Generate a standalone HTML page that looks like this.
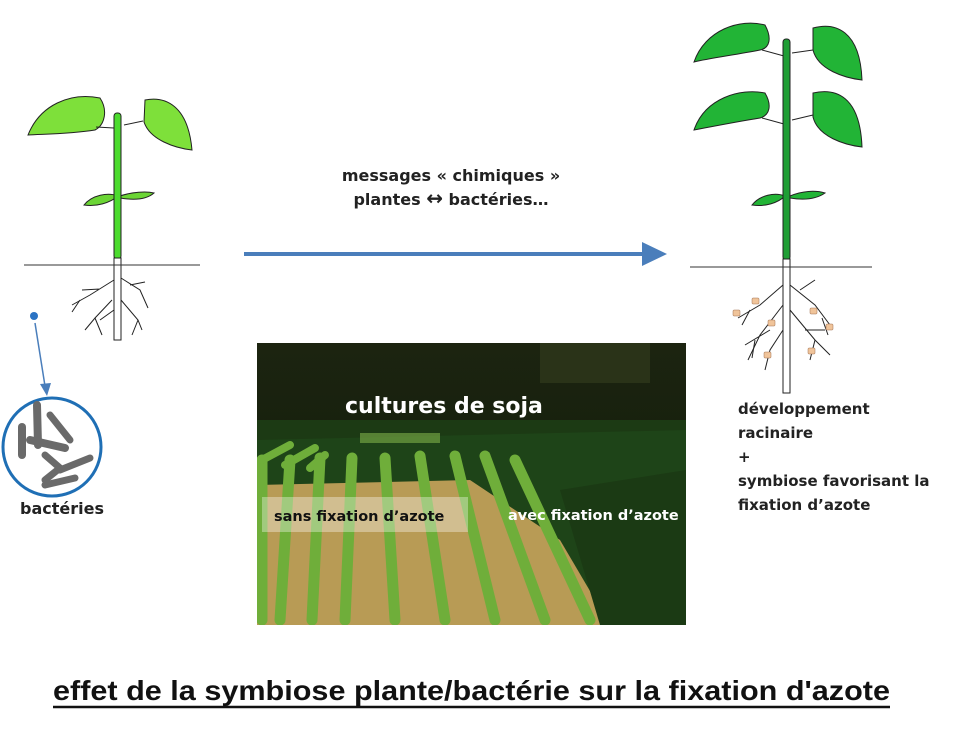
<!DOCTYPE html>
<html><head><meta charset="utf-8"><style>
html,body{margin:0;padding:0;background:#fff;}
svg{display:block;}
text{font-family:"Liberation Sans",sans-serif;}
.b{font-family:"DejaVu Sans","Liberation Sans",sans-serif;font-weight:bold;}
</style></head><body>
<svg width="956" height="750" viewBox="0 0 956 750" xmlns="http://www.w3.org/2000/svg">
<rect width="956" height="750" fill="#fff"/>

<!-- LEFT PLANT -->
<g stroke="#222" stroke-width="1">
  <path d="M28,135 C40,105 70,92 100,98 C108,110 105,125 95,130 C70,134 45,134 28,135 Z" fill="#7ee03a"/>
  <path d="M145,100 C165,96 188,105 192,150 C175,148 150,140 144,122 Z" fill="#7ee03a"/>
  <path d="M84,205 C92,195 108,192 118,196 C110,203 96,207 84,205 Z" fill="#6bd535"/>
  <path d="M120,196 C132,192 146,191 154,193 C146,200 132,200 120,198 Z" fill="#6bd535"/>
  <path d="M96,127 L114,128 M143,121 L124,125" fill="none"/>
  <rect x="114" y="113" width="7" height="146" rx="3" fill="#4cdc2e"/>
  <rect x="114" y="258" width="7" height="82" fill="#fff"/>
</g>
<line x1="24" y1="265" x2="200" y2="265" stroke="#333" stroke-width="1"/>
<g stroke="#222" stroke-width="1" fill="none">
  <path d="M114,280 L90,295 L72,305 M100,289 L82,290 M112,300 L95,318 L85,330 M114,310 L100,320"/>
  <path d="M121,278 L140,290 L148,308 M121,300 L138,320 L142,330 M130,285 L145,282"/>
  <path d="M80,300 L72,312 M95,318 L102,335 M138,320 L132,335"/>
</g>

<!-- bacteria -->
<circle cx="34" cy="316" r="4" fill="#2b74c4"/>
<line x1="35" y1="323" x2="45" y2="386" stroke="#4a7ebb" stroke-width="1.5"/>
<path d="M40,384 L47,396 L51,383 Z" fill="#4a7ebb"/>
<circle cx="52" cy="447" r="49" fill="#fff" stroke="#1f6fb5" stroke-width="3"/>
<g stroke="#6a6a6a" stroke-linecap="round" fill="none">
  <path d="M37,405 L38,445" stroke-width="8"/>
  <path d="M22,427 L22,455" stroke-width="8"/>
  <path d="M30,440 L65,448" stroke-width="8"/>
  <path d="M50,415 L70,440" stroke-width="7"/>
  <path d="M45,455 L60,468 L45,480" stroke-width="7"/>
  <path d="M60,470 L90,458" stroke-width="7"/>
  <path d="M45,485 L75,478" stroke-width="7"/>
</g>
<text x="20" y="514" class="b" font-size="16" fill="#222">bactéries</text>

<!-- ARROW -->
<line x1="244" y1="254" x2="646" y2="254" stroke="#4a7ebb" stroke-width="4"/>
<path d="M642,242 L667,254 L642,266 Z" fill="#4a7ebb"/>
<text x="451" y="181" class="b" font-size="16" fill="#222" text-anchor="middle">messages « chimiques »</text>
<text x="451" y="205" class="b" font-size="16" fill="#222" text-anchor="middle">plantes <tspan font-size="20">↔</tspan> bactéries…</text>

<!-- RIGHT PLANT -->
<g stroke="#222" stroke-width="1">
  <path d="M694,62 C705,30 740,18 765,25 C772,38 770,48 760,50 C735,55 710,58 694,62 Z" fill="#22b436"/>
  <path d="M813,28 C835,22 860,30 862,80 C845,78 818,70 813,50 Z" fill="#22b436"/>
  <path d="M694,130 C705,98 740,88 765,93 C772,105 770,115 760,118 C735,122 710,127 694,130 Z" fill="#22b436"/>
  <path d="M813,93 C835,88 860,95 862,147 C845,145 818,137 813,117 Z" fill="#22b436"/>
  <path d="M752,205 C760,195 775,192 785,196 C778,203 765,207 752,205 Z" fill="#22b436"/>
  <path d="M790,196 C802,191 815,190 825,193 C815,200 802,200 790,198 Z" fill="#22b436"/>
  <path d="M762,50 L784,56 M813,50 L792,53 M762,118 L784,124 M813,115 L792,120" fill="none"/>
  <rect x="783" y="39" width="7" height="221" rx="3" fill="#1f9e35"/>
  <rect x="783" y="259" width="7" height="134" fill="#fff"/>
</g>
<line x1="690" y1="267" x2="872" y2="267" stroke="#333" stroke-width="1"/>
<g stroke="#222" stroke-width="1" fill="none">
  <path d="M783,285 L760,305 L738,318 M783,305 L760,335 L748,360 M770,330 L745,345 M783,330 L770,350 L765,370"/>
  <path d="M790,285 L815,305 L830,325 M790,310 L815,340 L830,355 M800,290 L815,280 M805,330 L825,330"/>
  <path d="M750,310 L742,325 M755,340 L752,358 M822,318 L828,335 M815,340 L810,360"/>
</g>
<g fill="#f0c49a" stroke="#a07050" stroke-width="0.5">
  <rect x="733" y="310" width="7" height="6" rx="1"/><rect x="752" y="298" width="7" height="6" rx="1"/>
  <rect x="768" y="320" width="7" height="6" rx="1"/><rect x="810" y="308" width="7" height="6" rx="1"/>
  <rect x="826" y="324" width="7" height="6" rx="1"/><rect x="764" y="352" width="7" height="6" rx="1"/>
  <rect x="808" y="348" width="7" height="6" rx="1"/>
</g>
<g font-size="15" fill="#222">
  <text x="738" y="414" class="b">développement</text>
  <text x="738" y="438" class="b">racinaire</text>
  <text x="738" y="462" class="b">+</text>
  <text x="738" y="486" class="b">symbiose favorisant la</text>
  <text x="738" y="510" class="b">fixation d’azote</text>
</g>

<!-- PHOTO -->
<defs>
  <clipPath id="ph"><rect x="257" y="343" width="429" height="282"/></clipPath>
  <linearGradient id="sky" x1="0" y1="0" x2="0" y2="1">
    <stop offset="0" stop-color="#1c2410"/><stop offset="1" stop-color="#0e1a0a"/>
  </linearGradient>
</defs>
<g clip-path="url(#ph)">
  <rect x="257" y="343" width="429" height="282" fill="url(#sky)"/>
  <rect x="540" y="343" width="110" height="40" fill="#2a3318"/>
  <rect x="257" y="420" width="429" height="205" fill="#1c3a14"/>
  <polygon points="257,440 686,430 686,625 257,625" fill="#1e4418"/>
  <polygon points="257,485 470,480 560,540 610,625 257,625" fill="#b89b55"/>
  <g stroke="#6fae3a" stroke-width="11" stroke-linecap="round">
    <line x1="262" y1="460" x2="262" y2="620"/>
    <line x1="290" y1="460" x2="280" y2="620"/>
    <line x1="320" y1="458" x2="312" y2="620"/>
    <line x1="352" y1="458" x2="345" y2="620"/>
    <line x1="385" y1="458" x2="395" y2="620"/>
    <line x1="420" y1="456" x2="445" y2="620"/>
    <line x1="455" y1="456" x2="495" y2="620"/>
    <line x1="485" y1="456" x2="545" y2="620"/>
    <line x1="515" y1="460" x2="590" y2="620"/>
  </g>
  <g stroke="#6fae3a" stroke-width="8" stroke-linecap="round">
    <line x1="262" y1="460" x2="290" y2="445"/>
    <line x1="285" y1="465" x2="315" y2="448"/>
    <line x1="310" y1="468" x2="325" y2="455"/>
  </g>
  <polygon points="560,490 686,470 686,625 600,625" fill="#1b3a14"/>
  <rect x="360" y="433" width="80" height="10" fill="#7fb04a" opacity="0.6"/>
</g>
<rect x="262" y="497" width="206" height="35" fill="#fff" opacity="0.35"/>
<text x="345" y="413" class="b" font-size="22" fill="#fff">cultures de soja</text>
<text x="274" y="521" class="b" font-size="14.5" fill="#111">sans fixation d’azote</text>
<text x="508" y="520" class="b" font-size="14.5" fill="#fff">avec fixation d’azote</text>

<!-- TITLE -->
<text x="53" y="700" font-size="28" font-weight="bold" fill="#111" textLength="837" lengthAdjust="spacingAndGlyphs">effet de la symbiose plante/bactérie sur la fixation d'azote</text>
<line x1="53" y1="707" x2="890" y2="707" stroke="#111" stroke-width="2.5"/>
</svg>
</body></html>
